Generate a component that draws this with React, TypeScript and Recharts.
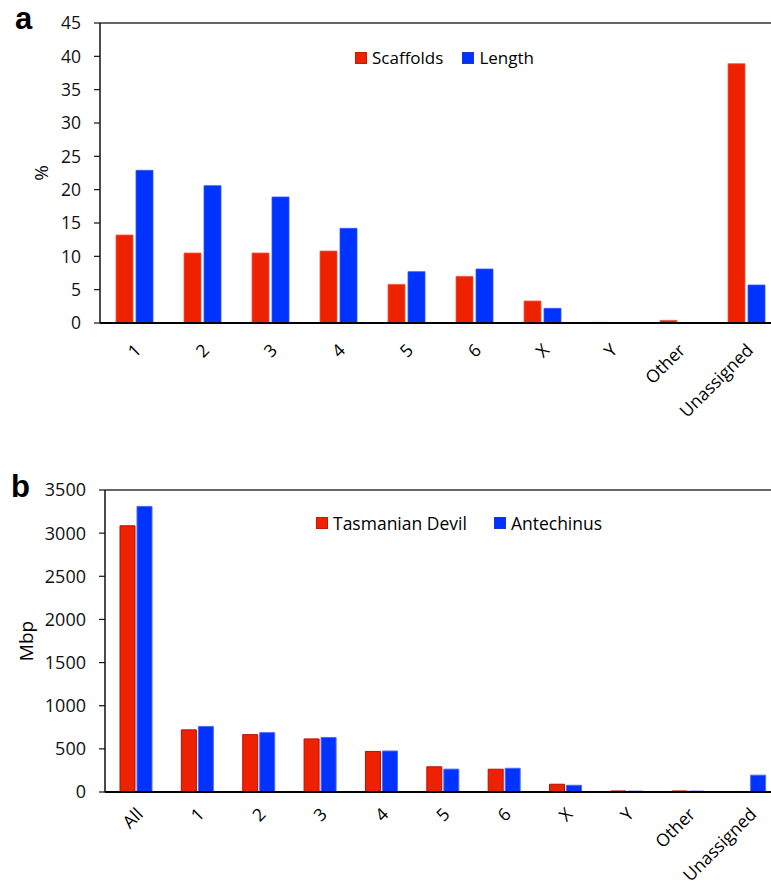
import React from 'react';
import { BarChart, Bar, XAxis, YAxis, ReferenceLine, Legend } from 'recharts';

// ---- Panel a data ----
const categoriesA = ['1', '2', '3', '4', '5', '6', 'X', 'Y', 'Other', 'Unassigned'];
const scaffoldsPct = [13.2, 10.5, 10.5, 10.8, 5.8, 7.0, 3.3, 0.1, 0.4, 38.9];
const lengthPct = [22.9, 20.6, 18.9, 14.2, 7.7, 8.1, 2.2, 0.05, 0.05, 5.7];
const yTicksA = [0, 5, 10, 15, 20, 25, 30, 35, 40, 45];
const seriesA = ['Scaffolds', 'Length'];

// ---- Panel b data ----
const categoriesB = ['All', '1', '2', '3', '4', '5', '6', 'X', 'Y', 'Other', 'Unassigned'];
const devilMbp = [3085, 720, 665, 615, 470, 292, 264, 90, 12, 12, 0];
const antechinusMbp = [3310, 760, 688, 632, 475, 265, 275, 78, 10, 10, 195];
const yTicksB = [0, 500, 1000, 1500, 2000, 2500, 3000, 3500];
const seriesB = ['Tasmanian Devil', 'Antechinus'];

const dataA = categoriesA.map((c, i) => ({ cat: c, [seriesA[0]]: scaffoldsPct[i], [seriesA[1]]: lengthPct[i] }));
const dataB = categoriesB.map((c, i) => ({ cat: c, [seriesB[0]]: devilMbp[i], [seriesB[1]]: antechinusMbp[i] }));

const FONT = '"Open Sans", sans-serif';
const RED = '#ee2200';
const BLUE = '#0033ff';
const BORDER: Record<string, string> = { [RED]: '#c41a00', [BLUE]: '#1a3acc' };

const RotTick = (props: any) => {
  const { x, y, payload, fs } = props;
  return (
    <g transform={`translate(${x + 4},${y})`}>
      <text x={0} y={0} dy="0.35em" textAnchor="end" transform="rotate(-45)" fontSize={fs} fontFamily={FONT} fill="#000">
        {payload.value}
      </text>
    </g>
  );
};

const makeLegend = (order: string[], fs: number, gap: number) => (props: any) => {
  const items = [...(props.payload || [])].sort((a: any, b: any) => order.indexOf(a.value) - order.indexOf(b.value));
  return (
    <div style={{ display: 'flex', alignItems: 'center', fontSize: fs, fontFamily: FONT, color: '#000', whiteSpace: 'nowrap', lineHeight: '24px' }}>
      {items.map((p: any, i: number) => (
        <span key={p.value} style={{ display: 'inline-flex', alignItems: 'center', marginRight: i === 0 ? gap : 0 }}>
          <span style={{ display: 'inline-block', width: 12, height: 12, background: p.color, boxSizing: 'border-box', border: `1px solid ${BORDER[p.color] || p.color}`, marginRight: 5 }} />
          {p.value}
        </span>
      ))}
    </div>
  );
};

const yLabel = (text: string, x: number, y: number, fs: number) => () => (
  <text x={x} y={y} transform={`rotate(-90 ${x} ${y})`} textAnchor="middle" dominantBaseline="central" fontSize={fs} fontFamily={FONT} fill="#000">
    {text}
  </text>
);

export default function App() {
  return (
    <div style={{ position: 'fixed', left: 0, top: 0, width: 771, height: 884, overflow: 'hidden', background: '#fff', fontFamily: FONT }}>
      <div style={{ position: 'absolute', left: 0, top: 0 }}>
        <BarChart width={780} height={440} data={dataA} margin={{ top: 23, right: 0, left: 0, bottom: 0 }} barSize={17} barGap={3}>
          <XAxis dataKey="cat" interval={0} tickLine={false} tickSize={0} tickMargin={24} height={117}
            axisLine={{ stroke: '#000', strokeWidth: 2 }} tick={<RotTick fs={17.5} />} />
          <YAxis domain={[0, 45]} ticks={yTicksA} interval={0} width={100} tickSize={6} tickMargin={13}
            axisLine={{ stroke: '#111', strokeWidth: 1.5 }} tickLine={{ stroke: '#111', strokeWidth: 1.2 }}
            tick={{ fontSize: 17.5, fontFamily: FONT, fill: '#111' }}
            label={{ content: yLabel('%', 41, 173, 19) }} />
          <ReferenceLine y={45} stroke="#333" strokeWidth={1.5} />
          <Legend layout="horizontal" verticalAlign="middle" align="center" content={makeLegend(seriesA, 17, 19)}
            wrapperStyle={{ position: 'absolute', top: 46, left: 355, width: 'auto', height: 'auto' }} />
          <Bar dataKey={seriesA[0]} fill={RED} stroke="#f05a40" strokeWidth={0.8} isAnimationActive={false} />
          <Bar dataKey={seriesA[1]} fill={BLUE} stroke="#3355ee" strokeWidth={0.8} isAnimationActive={false} />
        </BarChart>
      </div>
      <div style={{ position: 'absolute', left: 0, top: 467 }}>
        <BarChart width={780} height={417} data={dataB} margin={{ top: 23, right: 0, left: 0, bottom: 0 }} barSize={15} barGap={2}>
          <XAxis dataKey="cat" interval={0} tickLine={false} tickSize={0} tickMargin={19} height={92}
            axisLine={{ stroke: '#000', strokeWidth: 2 }} tick={<RotTick fs={17.5} />} />
          <YAxis domain={[0, 3500]} ticks={yTicksB} interval={0} width={105} tickSize={6} tickMargin={13}
            axisLine={{ stroke: '#111', strokeWidth: 1.5 }} tickLine={{ stroke: '#111', strokeWidth: 1.2 }}
            tick={{ fontSize: 18, fontFamily: FONT, fill: '#111' }}
            label={{ content: yLabel('Mbp', 26, 174, 19) }} />
          <ReferenceLine y={3500} stroke="#333" strokeWidth={1.5} />
          <Legend layout="horizontal" verticalAlign="middle" align="center" content={makeLegend(seriesB, 17.5, 27)}
            wrapperStyle={{ position: 'absolute', top: 44, left: 316, width: 'auto', height: 'auto' }} />
          <Bar dataKey={seriesB[0]} fill={RED} stroke="#b80f00" strokeWidth={1} isAnimationActive={false} />
          <Bar dataKey={seriesB[1]} fill={BLUE} stroke="#4d6bf0" strokeWidth={1} isAnimationActive={false} />
        </BarChart>
      </div>
      <svg width={771} height={884} style={{ position: 'absolute', left: 0, top: 0, pointerEvents: 'none' }}>
        <text x={15} y={29} fontSize={31} fontWeight="bold" fontFamily='"Liberation Sans", Arial, sans-serif' fill="#000">a</text>
        <text x={11} y={497} fontSize={31} fontWeight="bold" fontFamily='"Liberation Sans", Arial, sans-serif' fill="#000">b</text>
      </svg>
    </div>
  );
}
